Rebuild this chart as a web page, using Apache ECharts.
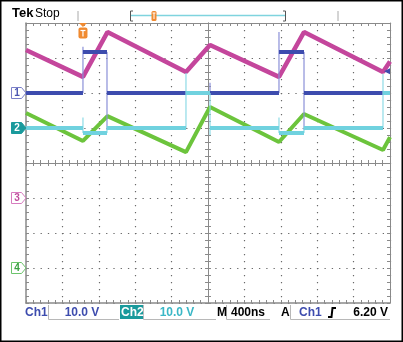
<!DOCTYPE html>
<html>
<head>
<meta charset="utf-8">
<script src="https://cdn.jsdelivr.net/npm/echarts@6/dist/echarts.min.js"></script>
<style>
html,body{margin:0;padding:0;background:#fff;}
#c{width:403px;height:342px;}
</style>
</head>
<body>
<div id="c"></div>
<script>
// time in ns (400 ns/div, 10 div), voltage in divisions (8 div)
const rampTimes = [0, 626, 895, 1758, 2022, 2780, 3055, 3923, 4000];
const ch3Values = [3.23, 2.46, 3.74, 2.60, 3.37, 2.46, 3.74, 2.60, 2.90];   // magenta
const ch4Values = [1.43, 0.63, 1.34, 0.31, 1.60, 0.60, 1.40, 0.37, 0.74];   // green
// [start, end, level]
const ch1Segments = [[0, 626, 2.0], [626, 890, 3.17], [890, 2780, 2.0], [2780, 3055, 3.17], [3055, 4000, 2.0]];
// [time, from, to]
const ch1Edges = [[626, 2.0, 3.32], [890, 3.17, 0.94], [2022, 2.0, 2.29], [2780, 2.0, 3.74], [3055, 3.17, 0.94]];
const ch2Segments = [[0, 626, 1.0], [626, 890, 0.86], [890, 1758, 1.0], [1758, 2022, 2.0], [2022, 2780, 1.0], [2780, 3055, 0.86], [3055, 3923, 1.0], [3923, 4000, 2.0]];
const ch2Edges = [[626, 0.86, 1.3], [890, 0.86, 1.05], [1758, 1.0, 2.57], [2022, 2.0, 0.8], [2780, 0.86, 1.3], [3055, 0.86, 1.05], [3923, 1.0, 2.55]];
const channelLevels = [2, 1, -1, -3];
const channelNames = ['1', '2', '3', '4'];
const triggerTime = 626;
const triggerLevel = 2.62;
const statusTexts = ['Ch1', '10.0 V', 'Ch2', '10.0 V', 'M', '400ns', 'A', 'Ch1', '6.20 V'];

function segData(segs) {
  const d = [];
  segs.forEach(s => { d.push([s[0], s[2]]); d.push([s[1], s[2]]); d.push([s[1], '-']); });
  return d;
}
function edgeData(edges) {
  const d = [];
  edges.forEach(e => { d.push([e[0], e[1]]); d.push([e[0], e[2]]); d.push([e[0], '-']); });
  return d;
}
function zip(t, v) { return t.map((x, i) => [x, v[i]]); }

const GL = 26, GT = 23, GW = 364, GH = 280;
const gridCol = '#8a8a8a';
const dotCol = '#6a6a6a';

function xAx(pos, offset, inside, split) {
  return {
    type: 'value', min: 0, max: 4000, interval: 400, position: pos, offset: offset,
    axisLine: { show: true, onZero: false, lineStyle: { color: gridCol, width: split ? 1.5 : 1 } },
    axisTick: { show: true, inside: inside, length: 3, lineStyle: { color: gridCol } },
    minorTick: { show: true, splitNumber: 5, length: 3, lineStyle: { color: gridCol } },
    axisLabel: { show: false },
    splitLine: { show: split, lineStyle: { color: dotCol, width: 1.2, type: [1.3, 5.7] } },
    minorSplitLine: { show: false }
  };
}
function yAx(pos, offset, inside, split) {
  return {
    type: 'value', min: -4, max: 4, interval: 1, position: pos, offset: offset,
    axisLine: { show: true, onZero: false, lineStyle: { color: gridCol, width: split ? 1.5 : 1 } },
    axisTick: { show: true, inside: inside, length: 3, lineStyle: { color: gridCol } },
    minorTick: { show: true, splitNumber: 5, length: 3, lineStyle: { color: gridCol } },
    axisLabel: { show: false },
    splitLine: { show: split, lineStyle: { color: dotCol, width: 1.2, type: [1.3, 5.98] } },
    minorSplitLine: { show: false }
  };
}

const chart = echarts.init(document.getElementById('c'), null, { renderer: 'canvas', width: 403, height: 342 });

const base = { type: 'line', xAxisIndex: 0, yAxisIndex: 0, showSymbol: false, symbol: 'none', connectNulls: false, silent: true, animation: false };

chart.setOption({
  animation: false,
  backgroundColor: '#fff',
  grid: { left: GL, top: GT, width: GW, height: GH, containLabel: false },
  xAxis: [
    xAx('bottom', 0, true, true),
    xAx('top', 0, true, false),
    xAx('bottom', -GH / 2, true, false),
    xAx('bottom', -GH / 2, false, false)
  ],
  yAxis: [
    yAx('left', 0, true, true),
    yAx('right', 0, true, false),
    yAx('left', -GW / 2, true, false),
    yAx('left', -GW / 2, false, false)
  ],
  series: [
    Object.assign({}, base, { name: 'Ch4', data: zip(rampTimes, ch4Values), z: 3, lineStyle: { color: '#6cc43c', width: 4 } }),
    Object.assign({}, base, { name: 'Ch3', data: zip(rampTimes, ch3Values), z: 4, lineStyle: { color: '#c4469c', width: 4.5 } }),
    Object.assign({}, base, { name: 'Ch1e', data: edgeData(ch1Edges), z: 5, lineStyle: { color: '#8b90d8', width: 1.2 } }),
    Object.assign({}, base, { name: 'Ch1', data: segData(ch1Segments), z: 5, lineStyle: { color: '#3d4cae', width: 4 } }),
    Object.assign({}, base, { name: 'Ch2e', data: edgeData(ch2Edges), z: 6, lineStyle: { color: '#8edbe6', width: 1.2 } }),
    Object.assign({}, base, { name: 'Ch2', data: segData(ch2Segments), z: 6, lineStyle: { color: '#70d2df', width: 4 } })
  ]
});

// decorations
const yPix = v => chart.convertToPixel({ yAxisIndex: 0 }, v);
const xPix = v => chart.convertToPixel({ xAxisIndex: 0 }, v);
const g = [];
g.push({ type: 'rect', shape: { x: 0.75, y: 0.75, width: 401.5, height: 340.5 }, style: { fill: null, stroke: '#000', lineWidth: 1.5 }, z: 100 });
// header
g.push({ type: 'text', x: 12, y: 20, style: { text: 'Tek', font: 'bold 13px "Liberation Sans", Arial, sans-serif', fill: '#000', textVerticalAlign: 'bottom' } });
g.push({ type: 'text', x: 35, y: 20, style: { text: 'Stop', font: '12px "Liberation Sans", Arial, sans-serif', fill: '#000', textVerticalAlign: 'bottom' } });
[78, 338].forEach(x => g.push({ type: 'line', shape: { x1: x, y1: 11, x2: x, y2: 21 }, style: { stroke: '#aaa', lineWidth: 1 } }));
g.push({ type: 'line', shape: { x1: 131, y1: 15.5, x2: 285, y2: 15.5 }, style: { stroke: '#7fd4de', lineWidth: 1.5 } });
g.push({ type: 'polyline', shape: { points: [[133, 11], [130.5, 11], [130.5, 21], [133, 21]] }, style: { stroke: '#555', lineWidth: 1, fill: null } });
g.push({ type: 'polyline', shape: { points: [[283, 11], [285.5, 11], [285.5, 21], [283, 21]] }, style: { stroke: '#555', lineWidth: 1, fill: null } });
g.push({ type: 'rect', shape: { x: 151.5, y: 11, width: 5, height: 10, r: 1.5 }, style: { fill: '#f08a30' } });
g.push({ type: 'line', shape: { x1: 152.5, y1: 13, x2: 155.5, y2: 13 }, style: { stroke: '#fff', lineWidth: 1 } });
g.push({ type: 'line', shape: { x1: 154, y1: 13, x2: 154, y2: 19 }, style: { stroke: '#fff', lineWidth: 1 } });
// trigger position marker
const tx = xPix(triggerTime);
g.push({ type: 'polygon', shape: { points: [[tx - 4, 23], [tx + 4, 23], [tx, 27]] }, style: { fill: '#f08a30' }, z: 20 });
g.push({ type: 'rect', shape: { x: tx - 4.5, y: 27.5, width: 9, height: 11, r: 2 }, style: { fill: '#f08a30' }, z: 20 });
g.push({ type: 'line', shape: { x1: tx - 2.5, y1: 30.5, x2: tx + 2.5, y2: 30.5 }, style: { stroke: '#fff', lineWidth: 1.2 }, z: 21 });
g.push({ type: 'line', shape: { x1: tx, y1: 30.5, x2: tx, y2: 36.5 }, style: { stroke: '#fff', lineWidth: 1.2 }, z: 21 });
// trigger level marker (right edge)
const ty = yPix(triggerLevel);
g.push({ type: 'polygon', shape: { points: [[GL + GW - 6, ty], [GL + GW, ty - 3], [GL + GW, ty + 3]] }, style: { fill: '#3d4cae' }, z: 20 });
// channel markers
const mk = [
  { stroke: '#7a7fc8', fill: '#fff', text: '#4a55b0' },
  { stroke: '#1a9a9c', fill: '#1a9a9c', text: '#fff' },
  { stroke: '#d77cbf', fill: '#fff', text: '#c04c9c' },
  { stroke: '#6cc46c', fill: '#fff', text: '#3aa040' }
];
channelLevels.forEach((lv, i) => {
  const y = yPix(lv);
  g.push({ type: 'polygon', shape: { points: [[11.5, y - 5.5], [21.5, y - 5.5], [26, y], [21.5, y + 5.5], [11.5, y + 5.5]] }, style: { fill: mk[i].fill, stroke: mk[i].stroke, lineWidth: 1 }, z: 20 });
  g.push({ type: 'text', x: 17, y: y + 0.5, style: { text: channelNames[i], font: 'bold 10px "Liberation Sans", Arial, sans-serif', fill: mk[i].text, textAlign: 'center', textVerticalAlign: 'middle' }, z: 21 });
});
// status bar
const sf = 'bold 12px "Liberation Sans", Arial, sans-serif';
const sy = 312.5;
const boxes = [[48, 305, 71, 14], [143, 305, 73, 14], [226, 305, 44, 14], [290, 305, 100, 14]];
boxes.forEach(b => {
  g.push({ type: 'polyline', shape: { points: [[b[0] + 0.5, b[1]], [b[0] + 0.5, b[1] + b[3] + 0.5], [b[0] + b[2], b[1] + b[3] + 0.5]] }, style: { stroke: '#b8b8b8', lineWidth: 1, fill: null } });
});
g.push({ type: 'rect', shape: { x: 120, y: 305, width: 23, height: 14 }, style: { fill: '#1a9a9c' } });
g.push({ type: 'text', x: 25, y: sy, style: { text: statusTexts[0], font: sf, fill: '#3d4cae', textVerticalAlign: 'middle' } });
g.push({ type: 'text', x: 82, y: sy, style: { text: statusTexts[1], font: sf, fill: '#3d4cae', textAlign: 'center', textVerticalAlign: 'middle' } });
g.push({ type: 'text', x: 121, y: sy, style: { text: statusTexts[2], font: sf, fill: '#fff', textVerticalAlign: 'middle' } });
g.push({ type: 'text', x: 177, y: sy, style: { text: statusTexts[3], font: sf, fill: '#3ab7c6', textAlign: 'center', textVerticalAlign: 'middle' } });
g.push({ type: 'text', x: 217, y: sy, style: { text: statusTexts[4], font: sf, fill: '#000', textVerticalAlign: 'middle' } });
g.push({ type: 'text', x: 248, y: sy, style: { text: statusTexts[5], font: sf, fill: '#000', textAlign: 'center', textVerticalAlign: 'middle' } });
g.push({ type: 'text', x: 281, y: sy, style: { text: statusTexts[6], font: sf, fill: '#000', textVerticalAlign: 'middle' } });
g.push({ type: 'text', x: 299, y: sy, style: { text: statusTexts[7], font: sf, fill: '#3d4cae', textVerticalAlign: 'middle' } });
g.push({ type: 'polyline', shape: { points: [[328, 317], [331.5, 317], [332.5, 308], [336, 308]] }, style: { stroke: '#000', lineWidth: 2, fill: null } });
g.push({ type: 'text', x: 388, y: sy, style: { text: statusTexts[8], font: sf, fill: '#000', textAlign: 'right', textVerticalAlign: 'middle' } });

chart.setOption({ graphic: { elements: g } });
</script>
</body>
</html>
